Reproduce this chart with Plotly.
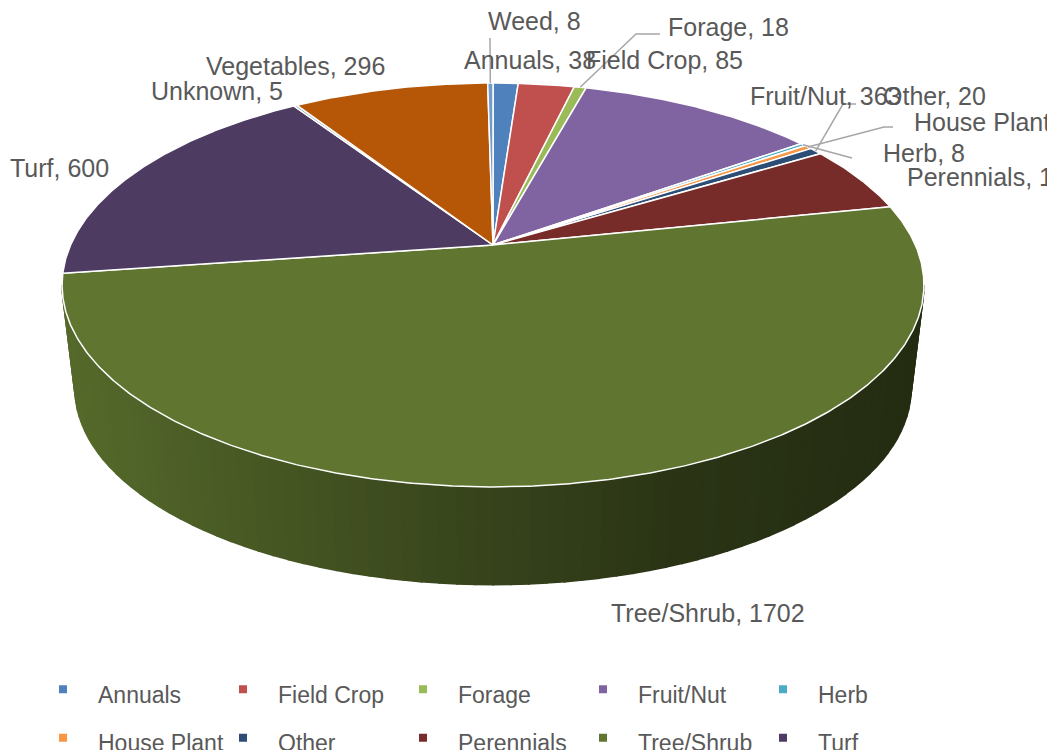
import numpy as np
import plotly.graph_objects as go

# ---------------- data ----------------
categories = ["Annuals", "Field Crop", "Forage", "Fruit/Nut", "Herb", "House Plant",
              "Other", "Perennials", "Tree/Shrub", "Turf", "Unknown", "Vegetables", "Weed"]
values = [38, 85, 18, 363, 8, 12, 20, 180, 1702, 600, 5, 296, 8]
colors = ["#4F81BD", "#C0504D", "#9BBB59", "#8064A2", "#4BACC6", "#F79646",
          "#2C4D75", "#772C2A", "#5F7530", "#4D3B62", "#7FA6B8", "#B65708", "#729ACA"]

# label layout (text left edge, vertical centre) in pixel space
label_pos = {
    "Annuals": (462, 60), "Field Crop": (584, 60), "Forage": (666, 27),
    "Fruit/Nut": (748, 96), "Herb": (881, 153), "House Plant": (912, 122),
    "Other": (881, 96), "Perennials": (905, 177), "Tree/Shrub": (609, 613),
    "Turf": (8, 168), "Unknown": (149, 91), "Vegetables": (204, 66), "Weed": (486, 21),
}
# leader line bend/end points for small slices
leaders = {
    "Weed": [(490, 38)],
    "Forage": [(636, 34), (660, 34)],
    "Other": [(843, 104), (856, 104)],
    "House Plant": [(884, 127), (893, 127)],
    "Herb": [(852, 158)],
}

# ---------------- 3D pie geometry ----------------
W, H = 1055, 750
OFF = 8  # page body margin
CX, CY = 493.0, 245.0
A0, B0, K = 422.4, 194.0, 0.198
DEPTH, SB = 105.0, 0.97


def top_pt(th):
    u, v = np.sin(th), np.cos(th)
    w = 1 + K * v
    return CX + A0 * u / w, CY - B0 * v / w


def bot_pt(th):
    u, v = np.sin(th), np.cos(th)
    w = 1 + K * v
    return CX + SB * A0 * u / w, CY + DEPTH - SB * B0 * v / w


def hex2rgb(h):
    h = h.lstrip("#")
    return tuple(int(h[i:i + 2], 16) for i in (0, 2, 4))


def shade(h, f):
    r, g, b = hex2rgb(h)
    return "rgb(%d,%d,%d)" % (r * f, g * f, b * f)


vals = np.array(values, dtype=float)
total = vals.sum()
cum = np.concatenate([[0], np.cumsum(vals)])
th0 = cum[:-1] / total * 2 * np.pi
th1 = cum[1:] / total * 2 * np.pi

fig = go.Figure()

# side wall (front, visible part)
vis0 = np.arccos(-K)
vis1 = 2 * np.pi - vis0
shade_x = [70, 400, 500, 680, 920]
shade_f = [0.9, 0.64, 0.57, 0.45, 0.38]
for i, cat in enumerate(categories):
    a = max(th0[i], vis0)
    b = min(th1[i], vis1)
    if b <= a:
        continue
    nstrip = max(1, int(np.degrees(b - a) / 2.0))
    edges = np.linspace(a, b, nstrip + 1)
    for j in range(nstrip):
        ts = np.linspace(edges[j], edges[j + 1], 6)
        xt, yt = top_pt(ts)
        xb, yb = bot_pt(ts[::-1])
        xm = float(np.mean(xt))
        f = float(np.interp(xm, shade_x, shade_f))
        c = shade(colors[i], f)
        fig.add_trace(go.Scatter(
            x=np.concatenate([xt, xb, xt[:1]]), y=np.concatenate([yt, yb, yt[:1]]),
            mode="lines", fill="toself", fillcolor=c, line=dict(color=c, width=1.6),
            hoverinfo="skip", showlegend=False))

# top faces
for i, cat in enumerate(categories):
    n = max(3, int(np.degrees(th1[i] - th0[i]) / 0.4) + 2)
    ts = np.linspace(th0[i], th1[i], n)
    xa, ya = top_pt(ts)
    xs = np.concatenate([[CX], xa, [CX]])
    ys = np.concatenate([[CY], ya, [CY]])
    fig.add_trace(go.Scatter(
        x=xs, y=ys, mode="lines", fill="toself", fillcolor=colors[i],
        line=dict(color="white", width=1.5), name=cat,
        hovertemplate="%s: %d<extra></extra>" % (cat, values[i]), showlegend=False))

# legend entries
for i, cat in enumerate(categories):
    fig.add_trace(go.Scatter(
        x=[None], y=[None], mode="markers",
        name='<span style="font-size:23px">%s</span>' % cat,
        marker=dict(symbol="square", size=8, color=colors[i]), showlegend=True))

# labels
font = dict(family="Liberation Sans, Arial, sans-serif", size=25, color="#595959")
for i, cat in enumerate(categories):
    lx, ly = label_pos[cat]
    fig.add_annotation(x=lx, y=ly, xref="x", yref="y", text="%s, %d" % (cat, values[i]),
                       showarrow=False, xanchor="left", yanchor="middle", font=font)

# leader lines
for cat, pts in leaders.items():
    i = categories.index(cat)
    sx, sy = top_pt((th0[i] + th1[i]) / 2)
    path = "M %.1f %.1f " % (sx, sy) + " ".join("L %.1f %.1f" % p for p in pts)
    fig.add_shape(type="path", path=path, xref="x", yref="y",
                  line=dict(color="#A6A6A6", width=1.5))

fig.update_layout(
    width=W, height=H, margin=dict(l=0, r=0, t=0, b=0, autoexpand=False),
    paper_bgcolor="white", plot_bgcolor="white",
    xaxis=dict(range=[OFF, W + OFF], visible=False, fixedrange=True),
    yaxis=dict(range=[H + OFF, OFF], visible=False, fixedrange=True),
    showlegend=True,
    legend=dict(orientation="h", x=(28 - OFF) / W, y=1 - (660 - OFF) / H,
                xanchor="left", yanchor="top",
                itemwidth=60, entrywidth=105, entrywidthmode="pixels",
                bgcolor="rgba(0,0,0,0)",
                font=dict(family="Liberation Sans, Arial, sans-serif", size=35, color="#595959")),
)

fig.write_html("out.html")
